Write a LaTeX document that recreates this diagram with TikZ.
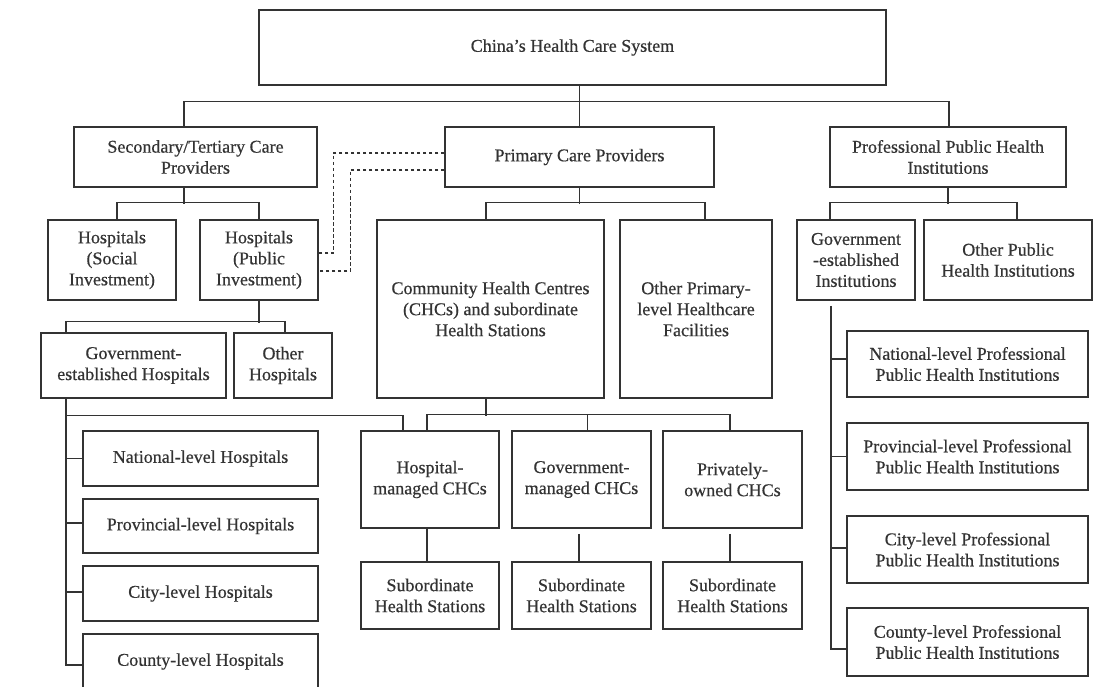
\documentclass[tikz,border=0pt]{standalone}
\usepackage{fontspec}
\setmainfont{Liberation Serif}
\newfontfamily\boxfont[FakeBold=0.45]{Liberation Serif}
\usetikzlibrary{shadows}

\tikzset{
  box/.style={draw=black!80, line width=1.5pt, fill=white, align=center,
    inner sep=2pt, text=black!80, font=\boxfont\fontsize{18}{21}\selectfont,
    drop shadow={shadow xshift=1.2pt, shadow yshift=-1.2pt, fill=black, opacity=0.25}},
  link/.style={draw=black!80, line width=1.4pt},
  dashlink/.style={draw=black!80, line width=1.3pt, dash pattern=on 3.5pt off 2.5pt},
}

\begin{document}
\begin{tikzpicture}[x=1pt, y=-1pt]
\useasboundingbox (0,0) rectangle (1110,687);
\clip (0,0) rectangle (1110,687);
\fill[white] (0,0) rectangle (1110,687);

% top level
\node[box, minimum width=627pt, minimum height=75pt] (root) at (572.5,47.5) {China’s Health Care System};

% second level
\node[box, minimum width=243pt, minimum height=60pt] (sec)  at (195.5,157) {Secondary/Tertiary Care\\Providers};
\node[box, minimum width=269pt, minimum height=60pt] (prim) at (579.5,157) {Primary Care Providers};
\node[box, minimum width=236pt, minimum height=60pt] (prof) at (948,157)   {Professional Public Health\\Institutions};

% third level
\node[box, minimum width=128pt, minimum height=80pt]  (hsoc)  at (112,260)   {Hospitals\\(Social\\Investment)};
\node[box, minimum width=118pt, minimum height=80pt]  (hpub)  at (259,260)   {Hospitals\\(Public\\Investment)};
\node[box, minimum width=227pt, minimum height=178pt] (chc)   at (490.5,309) {Community Health Centres\\(CHCs) and subordinate\\Health Stations};
\node[box, minimum width=152pt, minimum height=178pt] (oprim) at (696,309)   {Other Primary-\\level Healthcare\\Facilities};
\node[box, minimum width=118pt, minimum height=80pt]  (gins)  at (856,260)   {Government\\-established\\Institutions};
\node[box, minimum width=168pt, minimum height=80pt]  (opub)  at (1008,260)  {Other Public\\Health Institutions};

% public investment hospitals
\node[box, minimum width=185pt, minimum height=65pt] (ghosp) at (133.5,365.5) {Government-\\established Hospitals};
\node[box, minimum width=98pt,  minimum height=65pt] (ohosp) at (283,365.5)   {Other\\Hospitals};

% hospital levels
\node[box, minimum width=235pt, minimum height=55pt] (nat)    at (200.5,458.5) {National-level Hospitals};
\node[box, minimum width=235pt, minimum height=54pt] (prov)   at (200.5,526)   {Provincial-level Hospitals};
\node[box, minimum width=235pt, minimum height=55pt] (city)   at (200.5,593.5) {City-level Hospitals};
\node[box, minimum width=235pt, minimum height=55pt] (county) at (200.5,661.5) {County-level Hospitals};

% community health centres
\node[box, minimum width=138pt, minimum height=97pt] (hmchc) at (430,479.5)   {Hospital-\\managed CHCs};
\node[box, minimum width=139pt, minimum height=97pt] (gmchc) at (581.5,479.5) {Government-\\managed CHCs};
\node[box, minimum width=139pt, minimum height=97pt] (pochc) at (732.5,479.5) {Privately-\\owned CHCs};

\node[box, minimum width=138pt, minimum height=67pt] (sub1) at (430,595.5)   {Subordinate\\Health Stations};
\node[box, minimum width=139pt, minimum height=67pt] (sub2) at (581.5,595.5) {Subordinate\\Health Stations};
\node[box, minimum width=139pt, minimum height=67pt] (sub3) at (732.5,595.5) {Subordinate\\Health Stations};

% public health institution levels
\node[box, minimum width=241pt, minimum height=66pt] (pnat)    at (967.5,364)   {National-level Professional\\Public Health Institutions};
\node[box, minimum width=241pt, minimum height=67pt] (pprov)   at (967.5,456.5) {Provincial-level Professional\\Public Health Institutions};
\node[box, minimum width=241pt, minimum height=67pt] (pcity)   at (967.5,549.5) {City-level Professional\\Public Health Institutions};
\node[box, minimum width=241pt, minimum height=68pt] (pcounty) at (967.5,642)   {County-level Professional\\Public Health Institutions};

% ---- connectors ----
% root to the three provider groups
\draw[link] (root.south -| prim.north) -- (prim.north);
\draw[link] ([xshift=-11.5pt]sec.north) -- ++(0,-25) -| ([xshift=1pt]prof.north);

% secondary/tertiary care
\draw[link] ([xshift=-11.5pt]sec.south) -- ++(0,16);
\draw[link] ([xshift=5pt]hsoc.north) -- ++(0,-17) -| (hpub.north);

% primary care
\draw[link] (prim.south) -- ++(0,16);
\draw[link] ([xshift=-4.5pt]chc.north) -- ++(0,-17) -| ([xshift=9pt]oprim.north);

% professional public health
\draw[link] (prof.south) -- ++(0,16);
\draw[link] ([xshift=-26pt]gins.north) -- ++(0,-17) -| ([xshift=9pt]opub.north);

% links between primary care and public hospitals
\draw[dashlink] ([yshift=4pt]prim.west) -- ++(-111,0) |- ([yshift=7pt]hpub.east);
\draw[dashlink] ([yshift=-13pt]prim.west) -- ++(-94,0) |- ([yshift=-11pt]hpub.east);

% public investment hospitals
\draw[link] (hpub.south) -- ++(0,22);
\draw[link] ([xshift=-67.5pt]ghosp.north) -- ++(0,-11) -| ([xshift=2pt]ohosp.north);

% government-established hospitals to levels
\draw[link] ([xshift=-67.5pt]ghosp.south) |- ([yshift=-3.5pt]county.west);
\draw[link] (nat.west) -- ++(-17,0);
\draw[link] ([yshift=3pt]prov.west) -- ++(-17,0);
\draw[link] ([yshift=1.5pt]city.west) -- ++(-17,0);

% government-established hospitals to hospital-managed CHCs
\draw[link] ([xshift=-67.5pt,yshift=-17pt]ghosp.south) -| ([xshift=-27pt]hmchc.north);

% CHCs to the three types
\draw[link] ([xshift=-4.5pt]chc.south) -- ++(0,17);
\draw[link] ([xshift=-3pt]hmchc.north) -- ++(0,-16) -| ([xshift=-2.5pt]pochc.north);
\draw[link] ([xshift=6pt]gmchc.north) -- ++(0,-16);

% CHCs to subordinate stations
\draw[link] ([xshift=-3pt]hmchc.south) -- ([xshift=-3pt]sub1.north);
\draw[link] ([xshift=-2.5pt,yshift=-5pt]gmchc.south) -- ([xshift=-2.5pt]sub2.north);
\draw[link] ([xshift=-2.5pt,yshift=-5pt]pochc.south) -- ([xshift=-2.5pt]sub3.north);

% government-established institutions to levels
\draw[link] ([xshift=-25pt,yshift=-5pt]gins.south) |- ([yshift=-7pt]pcounty.west);
\draw[link] ([yshift=5pt]pnat.west) -- ++(-16,0);
\draw[link] (pprov.west) -- ++(-16,0);
\draw[link] ([yshift=1.5pt]pcity.west) -- ++(-16,0);
\end{tikzpicture}
\end{document}
